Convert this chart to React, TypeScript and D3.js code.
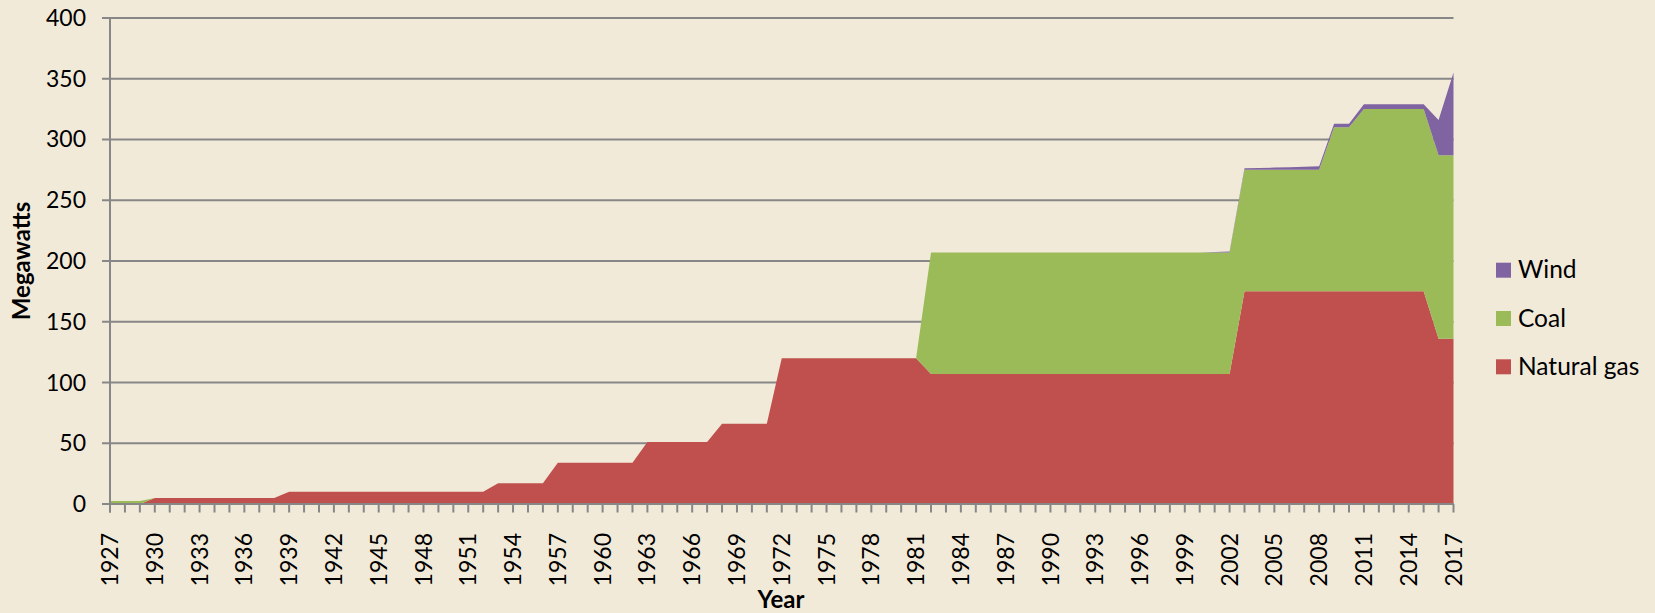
import React from "react";
import * as d3 from "d3";

const years = [
  1927, 1928, 1929, 1930, 1931, 1932, 1933, 1934, 1935, 1936, 1937, 1938, 1939, 1940,
  1941, 1942, 1943, 1944, 1945, 1946, 1947, 1948, 1949, 1950, 1951, 1952, 1953, 1954,
  1955, 1956, 1957, 1958, 1959, 1960, 1961, 1962, 1963, 1964, 1965, 1966, 1967, 1968,
  1969, 1970, 1971, 1972, 1973, 1974, 1975, 1976, 1977, 1978, 1979, 1980, 1981, 1982,
  1983, 1984, 1985, 1986, 1987, 1988, 1989, 1990, 1991, 1992, 1993, 1994, 1995, 1996,
  1997, 1998, 1999, 2000, 2001, 2002, 2003, 2004, 2005, 2006, 2007, 2008, 2009, 2010,
  2011, 2012, 2013, 2014, 2015, 2016, 2017,
];

const naturalGas = [
  0, 0, 0, 5, 5, 5, 5, 5, 5, 5, 5, 5, 10, 10,
  10, 10, 10, 10, 10, 10, 10, 10, 10, 10, 10, 10, 17, 17,
  17, 17, 34, 34, 34, 34, 34, 34, 51, 51, 51, 51, 51, 66,
  66, 66, 66, 120, 120, 120, 120, 120, 120, 120, 120, 120, 120, 107,
  107, 107, 107, 107, 107, 107, 107, 107, 107, 107, 107, 107, 107, 107,
  107, 107, 107, 107, 107, 107, 175, 175, 175, 175, 175, 175, 175, 175,
  175, 175, 175, 175, 175, 136, 136,
];

const coal = [
  2.5, 2.5, 2.5, 0, 0, 0, 0, 0, 0, 0, 0, 0, 0, 0,
  0, 0, 0, 0, 0, 0, 0, 0, 0, 0, 0, 0, 0, 0,
  0, 0, 0, 0, 0, 0, 0, 0, 0, 0, 0, 0, 0, 0,
  0, 0, 0, 0, 0, 0, 0, 0, 0, 0, 0, 0, 0, 100,
  100, 100, 100, 100, 100, 100, 100, 100, 100, 100, 100, 100, 100, 100,
  100, 100, 100, 100, 100, 100, 100, 100, 100, 100, 100, 100, 135, 135,
  150, 150, 150, 150, 150, 151, 151,
];

const wind = [
  0, 0, 0, 0, 0, 0, 0, 0, 0, 0, 0, 0, 0, 0,
  0, 0, 0, 0, 0, 0, 0, 0, 0, 0, 0, 0, 0, 0,
  0, 0, 0, 0, 0, 0, 0, 0, 0, 0, 0, 0, 0, 0,
  0, 0, 0, 0, 0, 0, 0, 0, 0, 0, 0, 0, 0, 0,
  0, 0, 0, 0, 0, 0, 0, 0, 0, 0, 0, 0, 0, 0,
  0, 0, 0, 0, 0.4, 0.8, 1.2, 1.5, 1.8, 2.2, 2.6, 3, 3, 3,
  4, 4, 4, 4, 4, 29, 68,
];

const yTicks = [0, 50, 100, 150, 200, 250, 300, 350, 400];
const xTickLabels = [
  1927, 1930, 1933, 1936, 1939, 1942, 1945, 1948, 1951, 1954, 1957, 1960, 1963, 1966,
  1969, 1972, 1975, 1978, 1981, 1984, 1987, 1990, 1993, 1996, 1999, 2002, 2005, 2008,
  2011, 2014, 2017,
];

const seriesKeys = ["Natural gas", "Coal", "Wind"];
const seriesColors: Record<string, string> = {
  "Natural gas": "#C0504D",
  Coal: "#9BBB59",
  Wind: "#8064A2",
};
const legendOrder = ["Wind", "Coal", "Natural gas"];

const W = 1655;
const H = 613;
const FONT = "Lato, 'Open Sans', sans-serif";
const GRID = "#878787";

export default function App() {
  const rows = years.map((yr, i) => ({
    year: yr,
    "Natural gas": naturalGas[i],
    Coal: coal[i],
    Wind: wind[i],
  }));

  const x = d3.scaleLinear().domain([1927, 2017]).range([110, 1453.5]);
  const y = d3.scaleLinear().domain([0, 400]).range([504, 17.9]);

  const stack = d3.stack<any>().keys(seriesKeys);
  const stacked = stack(rows);
  const area = d3
    .area<any>()
    .x((d) => x(d.data.year))
    .y0((d) => y(d[0]))
    .y1((d) => y(d[1]))
    .curve(d3.curveLinear);

  const labelSet = new Set(xTickLabels);

  return (
    <div style={{ position: "fixed", left: 0, top: 0, width: W, height: H }}>
      <svg width={W} height={H} style={{ display: "block" }} fontFamily={FONT}>
        <rect x={0} y={0} width={W} height={H} fill="#F2EAD9" />
        {yTicks.map((t) => (
          <line
            key={"g" + t}
            x1={102}
            x2={x(2017)}
            y1={y(t)}
            y2={y(t)}
            stroke={GRID}
            strokeWidth={2}
          />
        ))}
        {stacked.map((s) => (
          <path key={s.key} d={area(s) || ""} fill={seriesColors[s.key]} />
        ))}
        <line x1={x(1927)} x2={x(1927)} y1={y(400)} y2={512.5} stroke={GRID} strokeWidth={2} />
        <line x1={102} x2={x(2017)} y1={y(0)} y2={y(0)} stroke={GRID} strokeWidth={2} />
        {years.map((yr) => (
          <line
            key={"t" + yr}
            x1={x(yr)}
            x2={x(yr)}
            y1={y(0)}
            y2={512.5}
            stroke={GRID}
            strokeWidth={2}
          />
        ))}
        {yTicks.map((t) => (
          <text
            key={"yl" + t}
            x={86}
            y={y(t)}
            dy="0.35em"
            textAnchor="end"
            fontSize={23}
            fill="#000"
          >
            {t}
          </text>
        ))}
        {years
          .filter((yr) => labelSet.has(yr))
          .map((yr) => (
            <text
              key={"xl" + yr}
              transform={`translate(${x(yr)},533) rotate(-90)`}
              dy="0.35em"
              textAnchor="end"
              fontSize={23}
              fill="#000"
            >
              {yr}
            </text>
          ))}
        <text
          transform="translate(30,261) rotate(-90)"
          textAnchor="middle"
          fontSize={24}
          fontWeight="bold"
          fill="#000"
        >
          Megawatts
        </text>
        <text x={781} y={608} textAnchor="middle" fontSize={24} fontWeight="bold" fill="#000">
          Year
        </text>
        {legendOrder.map((k, i) => (
          <g key={"lg" + k} transform={`translate(1496,${262.7 + i * 48.3})`}>
            <rect x={0} y={0} width={15} height={15} fill={seriesColors[k]} />
            <text x={22} y={15.5} fontSize={24.5} fill="#000">
              {k}
            </text>
          </g>
        ))}
      </svg>
    </div>
  );
}
